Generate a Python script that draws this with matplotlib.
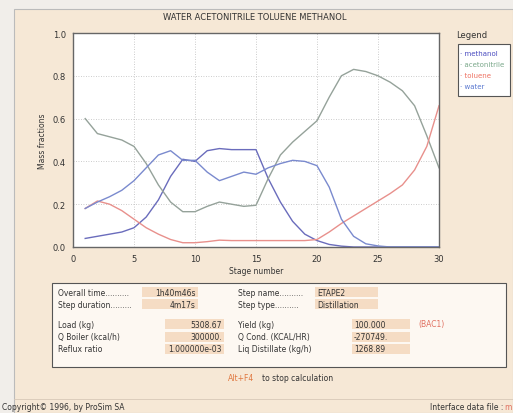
import numpy as np
import matplotlib.pyplot as plt
from matplotlib.patches import Rectangle

# ---------------------------------------------------------------------------
# Data (stages 1..30, mass fractions)
# ---------------------------------------------------------------------------
STAGES = list(range(1, 31))
METHANOL = [0.04, 0.05, 0.06, 0.07, 0.09, 0.14, 0.22, 0.33, 0.41, 0.40,
            0.45, 0.46, 0.455, 0.455, 0.455, 0.32, 0.21, 0.12, 0.06, 0.03,
            0.012, 0.004, 0.0, 0.0, 0.0, 0.0, 0.0, 0.0, 0.0, 0.0]
ACETONITRILE = [0.60, 0.53, 0.515, 0.50, 0.47, 0.39, 0.29, 0.21, 0.165, 0.165,
                0.19, 0.21, 0.20, 0.19, 0.195, 0.32, 0.43, 0.49, 0.54, 0.59,
                0.70, 0.80, 0.83, 0.82, 0.80, 0.77, 0.73, 0.66, 0.52, 0.37]
TOLUENE = [0.18, 0.215, 0.20, 0.17, 0.13, 0.09, 0.06, 0.035, 0.02, 0.02,
           0.025, 0.032, 0.03, 0.03, 0.03, 0.03, 0.03, 0.03, 0.03, 0.035,
           0.07, 0.11, 0.145, 0.18, 0.215, 0.25, 0.29, 0.36, 0.47, 0.66]
WATER = [0.18, 0.21, 0.235, 0.265, 0.31, 0.37, 0.43, 0.45, 0.405, 0.405,
         0.35, 0.31, 0.33, 0.35, 0.34, 0.37, 0.39, 0.405, 0.40, 0.38,
         0.28, 0.13, 0.05, 0.015, 0.005, 0.0, 0.0, 0.0, 0.0, 0.0]

SERIES_NAMES = ["methanol", "acetonitrile", "toluene", "water"]
SERIES_COLORS = ["#6a6cbc", "#95a29a", "#e8908c", "#7a8ace"]
LEGEND_COLORS = ["#4a4cc0", "#7aa88a", "#ee7060", "#5a78d0"]

X_TICKS = [0, 5, 10, 15, 20, 25, 30]
Y_TICKS = [0.0, 0.2, 0.4, 0.6, 0.8, 1.0]

INFO_ROWS = [
    ("Overall time..........", "1h40m46s", "Step name..........", "ETAPE2"),
    ("Step duration.........", "4m17s", "Step type..........", "Distillation"),
]
INFO_ROWS2 = [
    ("Load (kg)", "5308.67", "Yield (kg)", "100.000"),
    ("Q Boiler (kcal/h)", "300000.", "Q Cond. (KCAL/HR)", "-270749."),
    ("Reflux ratio", "1.000000e-03", "Liq Distillate (kg/h)", "1268.89"),
]

W, H = 513, 414
BG = "#f6e8d6"
FIELD = "#f5dcc4"
TXT = "#333333"


def px(x, y):
    """Pixel coords (top-left origin) -> figure fraction."""
    return x / W, 1 - y / H


def box(x0, y0, x1, y1, face, edge="none", z=-5):
    fig.patches.append(Rectangle(px(x0, y1), (x1 - x0) / W, (y1 - y0) / H,
                                 transform=fig.transFigure, facecolor=face,
                                 edgecolor=edge, linewidth=0.8, zorder=z))


fig = plt.figure(figsize=(W / 100, H / 100), dpi=100)
fig.patch.set_facecolor("#f1eeea")

# window panel
box(14, 10, 513, 414, BG, edge="#bbbbbb", z=-10)

ax = fig.add_axes([73 / W, 1 - 248 / H, 366 / W, 214 / H])
ax.set_zorder(1)
ax.set_facecolor("white")
for ys, name, col in zip([METHANOL, ACETONITRILE, TOLUENE, WATER],
                         SERIES_NAMES, SERIES_COLORS):
    ax.plot(STAGES, ys, color=col, linewidth=1.0, label=name)

ax.set_xlim(0, 30)
ax.set_ylim(0, 1.0)
ax.set_xticks(X_TICKS)
ax.set_yticks(Y_TICKS)
ax.set_yticklabels([f"{v:.1f}" for v in Y_TICKS])
ax.tick_params(labelsize=6, colors=TXT, length=0, pad=5)
ax.grid(True, linestyle=(0, (1, 2)), color="#bbbbbb", linewidth=0.6)
for sp in ax.spines.values():
    sp.set_color("#666666")
    sp.set_linewidth(1.0)
ax.set_xlabel("Stage number", fontsize=5.5, color=TXT, labelpad=2)
ax.set_ylabel("Mass fractions", fontsize=5.5, color=TXT, labelpad=4)

fig.text(*px(255, 18), "WATER ACETONITRILE TOLUENE METHANOL", fontsize=6,
         ha="center", va="center", color=TXT)

# legend box
fig.text(*px(472, 35), "Legend", fontsize=6, ha="center", va="center", color=TXT)
box(458, 45, 510, 97, "white", edge="#555555")
for i, (name, col) in enumerate(zip(SERIES_NAMES, LEGEND_COLORS)):
    fig.text(*px(460, 54 + i * 11), "· " + name, fontsize=5,
             ha="left", va="center", color=col)

# info box
box(52, 284, 506, 368, "#fdf8f2", edge="#555555")


def field(x0, x1, y, text, align="right", color=TXT):
    box(x0, y - 5, x1, y + 5, FIELD, z=-4)
    if align == "right":
        fig.text(*px(x1 - 2, y), text, fontsize=5.5, ha="right", va="center", color=color)
    else:
        fig.text(*px(x0 + 2, y), text, fontsize=5.5, ha="left", va="center", color=color)


for i, (l1, v1, l2, v2) in enumerate(INFO_ROWS):
    y = 293 + i * 12
    fig.text(*px(58, y), l1, fontsize=5.5, ha="left", va="center", color=TXT)
    field(142, 198, y, v1)
    fig.text(*px(238, y), l2, fontsize=5.5, ha="left", va="center", color=TXT)
    field(315, 378, y, v2, align="left")

for i, (l1, v1, l2, v2) in enumerate(INFO_ROWS2):
    y = 325 + i * 12.5
    fig.text(*px(58, y), l1, fontsize=5.5, ha="left", va="center", color=TXT)
    field(165, 224, y, v1)
    fig.text(*px(238, y), l2, fontsize=5.5, ha="left", va="center", color=TXT)
    field(352, 410, y, v2, align="left")

fig.text(*px(418, 325), "(BAC1)", fontsize=5.5, ha="left", va="center", color="#e07060")

fig.text(*px(228, 379), "Alt+F4", fontsize=5.5, ha="left", va="center", color="#e07840")
fig.text(*px(262, 379), "to stop calculation", fontsize=5.5, ha="left",
         va="center", color=TXT)

fig.lines.append(plt.Line2D([14 / W, 1], [1 - 400 / H] * 2, transform=fig.transFigure,
                            color="#d8c8b8", linewidth=0.6))
fig.text(*px(2, 408), "Copyright© 1996, by ProSim SA", fontsize=5.5,
         ha="left", va="center", color=TXT)
fig.text(*px(430, 408), "Interface data file :", fontsize=5.5,
         ha="left", va="center", color=TXT)
fig.text(*px(504, 408), "m", fontsize=5.5, ha="left", va="center", color="#e07060")

fig.savefig("out.png", dpi=100, facecolor=fig.get_facecolor())
